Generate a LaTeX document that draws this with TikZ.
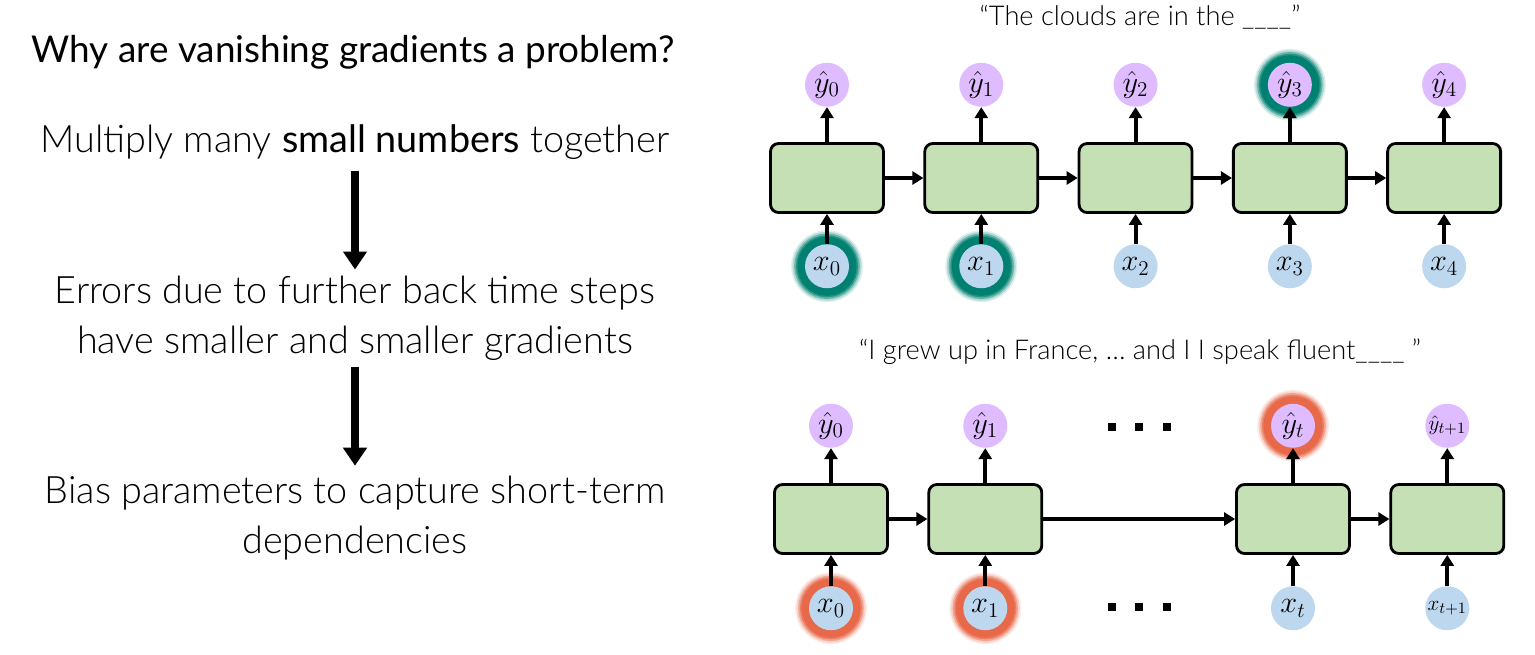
\documentclass[tikz,border=0pt]{standalone}
\usepackage{fontspec}
\setmainfont{Lato}
\newfontfamily\lightfont{Lato Light}
\usepackage{xcolor}
\usepackage{tikz}
\usetikzlibrary{arrows.meta,positioning}
\definecolor{cellgreen}{RGB}{197,224,180}
\definecolor{inblue}{RGB}{189,215,238}
\definecolor{outlilac}{RGB}{222,188,255}
\definecolor{tealglow}{RGB}{0,128,112}
\definecolor{redglow}{RGB}{232,104,74}

\begin{document}
\begin{tikzpicture}[x=0.02cm,y=-0.02cm,
  cell/.style={draw,line width=1.6pt,rounded corners=0.16cm,fill=cellgreen,minimum width=2.26cm,minimum height=1.38cm},
  inp/.style={circle,fill=inblue,minimum size=0.88cm,inner sep=0pt,font=\fontsize{17}{20}\selectfont},
  outp/.style={circle,fill=outlilac,minimum size=0.88cm,inner sep=0pt,font=\fontsize{17}{20}\selectfont},
  glow/.style={preaction={draw=#1!12,line width=0.56cm},preaction={draw=#1!30,line width=0.5cm},
    preaction={draw=#1!60,line width=0.43cm},preaction={draw=#1!85,line width=0.36cm},preaction={draw=#1,line width=0.3cm}},
  flow/.style={-{Triangle[length=0.22cm,width=0.26cm]},line width=2.2pt},
  bigflow/.style={-{Triangle[length=0.36cm,width=0.46cm]},line width=5pt},
  body/.style={align=center,font={\lightfont\fontsize{21.5}{28.5}\selectfont}},
  quote/.style={font={\lightfont\fontsize{15.5}{18}\selectfont}}
]
  \useasboundingbox (0,0) rectangle (1535,654);

  % left column
  \node[font=\fontsize{21}{25}\selectfont] (why) at (353,52) {Why are vanishing gradients a problem?};
  \node[body] (mult) at (355,142) {Multiply many {\normalfont small numbers} together};
  \node[body] (err) at (355,318) {Errors due to further back time steps\\have smaller and smaller gradients};
  \node[body] (bias) at (355,518) {Bias parameters to capture short-term\\dependencies};
  \draw[bigflow,shorten <=0.1cm] (mult) -- (err);
  \draw[bigflow,shorten >=0.08cm] (err) -- (bias);

  % top: short gap
  \node[quote] (q1) at (1140,17) {“The clouds are in the \_\_\_\_”};
  \node[cell] (a0) at (827,178) {};
  \node[cell,right=0.77cm of a0] (a1) {};
  \node[cell,right=0.77cm of a1] (a2) {};
  \node[cell,right=0.77cm of a2] (a3) {};
  \node[cell,right=0.77cm of a3] (a4) {};
  \node[outp,above=0.7cm of a0] (ya0) {$\hat{y}_0$};
  \node[outp,above=0.7cm of a1] (ya1) {$\hat{y}_1$};
  \node[outp,above=0.7cm of a2] (ya2) {$\hat{y}_2$};
  \node[outp,glow=tealglow,above=0.7cm of a3] (ya3) {$\hat{y}_3$};
  \node[outp,above=0.7cm of a4] (ya4) {$\hat{y}_4$};
  \node[inp,glow=tealglow,below=0.6cm of a0] (xa0) {$x_0$};
  \node[inp,glow=tealglow,below=0.6cm of a1] (xa1) {$x_1$};
  \node[inp,below=0.6cm of a2] (xa2) {$x_2$};
  \node[inp,below=0.6cm of a3] (xa3) {$x_3$};
  \node[inp,below=0.6cm of a4] (xa4) {$x_4$};
  \draw[flow] (a0)--(a1); \draw[flow] (a1)--(a2); \draw[flow] (a2)--(a3); \draw[flow] (a3)--(a4);
  \draw[flow] (a0)--(ya0); \draw[flow] (a1)--(ya1); \draw[flow] (a2)--(ya2); \draw[flow] (a3)--(ya3); \draw[flow] (a4)--(ya4);
  \draw[flow] (xa0)--(a0); \draw[flow] (xa1)--(a1); \draw[flow] (xa2)--(a2); \draw[flow] (xa3)--(a3); \draw[flow] (xa4)--(a4);

  % bottom: long gap
  \node[quote] (q2) at (1140,352) {“I grew up in France, \ldots\ and I I speak fluent\_\_\_\_ ”};
  \node[cell] (b0) at (831,519) {};
  \node[cell,right=0.77cm of b0] (b1) {};
  \node[cell] (bt) at (1293,519) {};
  \node[cell,right=0.77cm of bt] (bt1) {};
  \node[outp,above=0.7cm of b0] (yb0) {$\hat{y}_0$};
  \node[outp,above=0.7cm of b1] (yb1) {$\hat{y}_1$};
  \node[outp,glow=redglow,above=0.7cm of bt] (ybt) {$\hat{y}_t$};
  \node[outp,above=0.7cm of bt1] (ybt1) {\fontsize{13}{15}\selectfont$\hat{y}_{t+1}$};
  \node[inp,glow=redglow,below=0.62cm of b0] (xb0) {$x_0$};
  \node[inp,glow=redglow,below=0.62cm of b1] (xb1) {$x_1$};
  \node[inp,below=0.62cm of bt] (xbt) {$x_t$};
  \node[inp,below=0.62cm of bt1] (xbt1) {\fontsize{13}{15}\selectfont$x_{t+1}$};
  \draw[flow] (b0)--(b1); \draw[flow] (b1)--(bt); \draw[flow] (bt)--(bt1);
  \draw[flow] (b0)--(yb0); \draw[flow] (b1)--(yb1); \draw[flow] (bt)--(ybt); \draw[flow] (bt1)--(ybt1);
  \draw[flow] (xb0)--(b0); \draw[flow] (xb1)--(b1); \draw[flow] (xbt)--(bt); \draw[flow] (xbt1)--(bt1);
  \foreach \dx in {1112,1139,1167} {
    \fill (\dx-4,423) rectangle ++(8,8);
    \fill (\dx-4,603) rectangle ++(8,8);
  }
\end{tikzpicture}
\end{document}
